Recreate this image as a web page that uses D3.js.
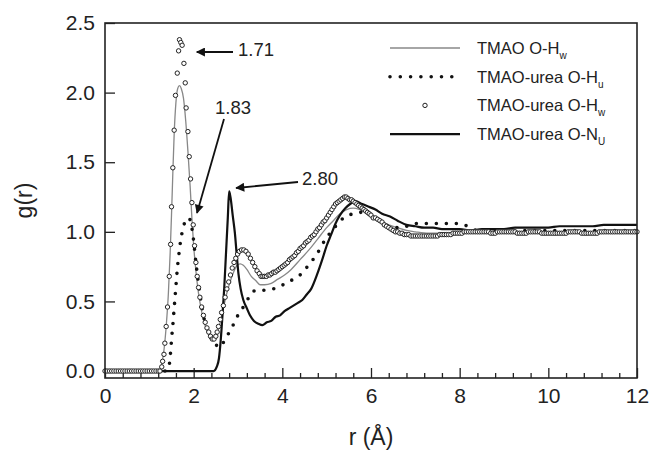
<!DOCTYPE html>
<html>
<head>
<meta charset="utf-8">
<script src="https://cdn.jsdelivr.net/npm/d3@7"></script>
<style>
  body { margin: 0; background: #fff; }
  svg { display: block; font-family: "Liberation Sans", Arial, sans-serif; }
  .axis path { display: none; }
  .axis line { stroke: #222; stroke-width: 1.3; }
  .axis text { fill: #222; font-size: 21px; font-family: "Liberation Sans", Arial, sans-serif; }
</style>
</head>
<body>
<script>
// x ticks, y ticks
const xMajor = [0, 2, 4, 6, 8, 10, 12];
const xMinor = [0.4, 0.8, 1.2, 1.6, 2.4, 2.8, 3.2, 3.6, 4.4, 4.8, 5.2, 5.6, 6.4, 6.8, 7.2, 7.6, 8.4, 8.8, 9.2, 9.6, 10.4, 10.8, 11.2, 11.6];
const yMajor = [0, 0.5, 1.0, 1.5, 2.0, 2.5];

// TMAO O-Hw (thin grey line)
const rGrey = [0, 1.22, 1.28, 1.33, 1.38, 1.43, 1.47, 1.50, 1.53, 1.56, 1.60, 1.64, 1.68, 1.72, 1.77, 1.82, 1.87, 1.92, 1.96, 2.00, 2.05, 2.10, 2.16, 2.22, 2.30, 2.37, 2.43, 2.50, 2.58, 2.66, 2.74, 2.82, 2.90, 2.98, 3.05, 3.12, 3.20, 3.30, 3.40, 3.50, 3.60, 3.75, 3.90, 4.05, 4.20, 4.40, 4.60, 4.80, 5.00, 5.15, 5.30, 5.45, 5.60, 5.75, 5.90, 6.05, 6.20, 6.40, 6.60, 6.80, 7.00, 7.30, 7.60, 8.00, 8.50, 9.00, 9.50, 10.0, 10.5, 11.0, 11.5, 12.0];
const gGrey = [0, 0, 0.05, 0.15, 0.32, 0.56, 0.85, 1.12, 1.42, 1.70, 1.93, 2.03, 2.05, 2.03, 1.96, 1.80, 1.58, 1.33, 1.10, 0.90, 0.72, 0.58, 0.46, 0.37, 0.29, 0.24, 0.22, 0.24, 0.33, 0.44, 0.55, 0.64, 0.71, 0.76, 0.77, 0.76, 0.73, 0.68, 0.65, 0.62, 0.62, 0.63, 0.66, 0.69, 0.73, 0.80, 0.87, 0.95, 1.03, 1.08, 1.13, 1.16, 1.17, 1.16, 1.14, 1.11, 1.08, 1.05, 1.03, 1.01, 1.00, 0.99, 0.99, 0.99, 1.00, 1.00, 1.00, 1.00, 1.00, 1.00, 1.00, 1.00];

// TMAO-urea O-Hu (dotted line)
const rDot = [0, 1.38, 1.44, 1.47, 1.49, 1.51, 1.53, 1.55, 1.57, 1.59, 1.61, 1.63, 1.66, 1.69, 1.73, 1.77, 1.83, 1.89, 1.94, 1.99, 2.04, 2.10, 2.16, 2.22, 2.30, 2.40, 2.50, 2.58, 2.66, 2.75, 2.86, 2.98, 3.12, 3.25, 3.40, 3.57, 3.80, 4.02, 4.25, 4.40, 4.59, 4.78, 4.96, 5.15, 5.38, 5.60, 5.80, 6.00, 6.20, 6.40, 6.60, 6.80, 7.00, 7.30, 7.60, 7.90, 8.10, 8.30, 8.50, 9.00, 9.50, 10.0, 10.5, 11.0, 11.5, 12.0];
const gDot = [0, 0, 0.03, 0.10, 0.18, 0.26, 0.33, 0.41, 0.49, 0.57, 0.65, 0.73, 0.82, 0.90, 0.98, 1.04, 1.08, 1.10, 1.06, 0.96, 0.81, 0.65, 0.51, 0.40, 0.30, 0.23, 0.19, 0.17, 0.20, 0.25, 0.31, 0.39, 0.46, 0.53, 0.58, 0.58, 0.59, 0.62, 0.66, 0.69, 0.76, 0.84, 0.94, 1.02, 1.10, 1.13, 1.14, 1.12, 1.08, 1.04, 1.03, 1.04, 1.06, 1.06, 1.06, 1.06, 1.05, 1.02, 1.00, 1.00, 1.01, 1.01, 1.01, 1.01, 1.01, 1.01];

// TMAO-urea O-Hw (open circles): baseline, first shell, second shell, tail
const rCircA = [0, 0.05, 0.10, 0.15, 0.20, 0.25, 0.30, 0.35, 0.40, 0.45, 0.50, 0.55, 0.60, 0.65, 0.70, 0.75, 0.80, 0.85, 0.90, 0.95, 1.00, 1.05, 1.10, 1.15, 1.20, 1.24];
const gCircA = [0, 0, 0, 0, 0, 0, 0, 0, 0, 0, 0, 0, 0, 0, 0, 0, 0, 0, 0, 0, 0, 0, 0, 0, 0, 0];
const rCircB = [1.28, 1.30, 1.33, 1.35, 1.38, 1.41, 1.45, 1.48, 1.50, 1.53, 1.56, 1.59, 1.63, 1.66, 1.68, 1.71, 1.74, 1.78, 1.81, 1.83, 1.87, 1.90, 1.93, 1.96, 1.99, 2.02, 2.05, 2.08, 2.11, 2.14, 2.18, 2.22, 2.26, 2.30, 2.34, 2.38, 2.42, 2.46, 2.50, 2.53, 2.56, 2.60, 2.63, 2.67, 2.71, 2.75, 2.79, 2.83, 2.87, 2.91, 2.95, 2.99, 3.03, 3.08, 3.13, 3.18, 3.23, 3.28, 3.33, 3.38, 3.43, 3.48];
const gCircB = [0.03, 0.07, 0.12, 0.20, 0.32, 0.46, 0.68, 0.91, 1.18, 1.46, 1.73, 1.98, 2.14, 2.30, 2.38, 2.36, 2.34, 2.21, 2.07, 1.89, 1.72, 1.54, 1.38, 1.21, 1.05, 0.90, 0.78, 0.68, 0.60, 0.53, 0.46, 0.40, 0.35, 0.31, 0.28, 0.25, 0.23, 0.23, 0.25, 0.28, 0.32, 0.37, 0.42, 0.47, 0.53, 0.59, 0.64, 0.69, 0.74, 0.78, 0.81, 0.84, 0.86, 0.87, 0.87, 0.86, 0.84, 0.81, 0.78, 0.75, 0.72, 0.70];
const rCircC = [3.52, 3.56, 3.60, 3.64, 3.68, 3.72, 3.76, 3.80, 3.84, 3.88, 3.92, 3.96, 4.00, 4.04, 4.08, 4.12, 4.16, 4.20, 4.24, 4.28, 4.32, 4.36, 4.40, 4.44, 4.48, 4.52, 4.56, 4.60, 4.64, 4.68, 4.72, 4.76, 4.80, 4.84, 4.88, 4.92, 4.96, 5.00, 5.04, 5.08, 5.12, 5.16, 5.20, 5.24, 5.28, 5.32, 5.36, 5.40, 5.44, 5.48, 5.52, 5.56, 5.60, 5.64, 5.68, 5.72, 5.76, 5.80, 5.84, 5.88, 5.92, 5.96, 6.00];
const gCircC = [0.68, 0.68, 0.68, 0.68, 0.69, 0.69, 0.70, 0.71, 0.71, 0.72, 0.73, 0.74, 0.75, 0.76, 0.77, 0.78, 0.80, 0.81, 0.82, 0.83, 0.85, 0.86, 0.88, 0.89, 0.90, 0.92, 0.93, 0.94, 0.96, 0.97, 0.98, 1.00, 1.02, 1.03, 1.05, 1.07, 1.08, 1.10, 1.12, 1.14, 1.16, 1.18, 1.20, 1.21, 1.22, 1.23, 1.24, 1.25, 1.25, 1.24, 1.23, 1.23, 1.22, 1.21, 1.20, 1.19, 1.18, 1.17, 1.16, 1.15, 1.14, 1.13, 1.12];
const rCircD = [6.05, 6.10, 6.15, 6.20, 6.25, 6.30, 6.35, 6.40, 6.45, 6.50, 6.55, 6.60, 6.65, 6.70, 6.75, 6.80, 6.85, 6.90, 6.95, 7.00,
    7.05, 7.10, 7.15, 7.20, 7.25, 7.30, 7.35, 7.40, 7.45, 7.50, 7.55, 7.60, 7.65, 7.70, 7.75, 7.80, 7.85, 7.90, 7.95, 8.00,
    8.05, 8.10, 8.15, 8.20, 8.25, 8.30, 8.35, 8.40, 8.45, 8.50, 8.55, 8.60, 8.65, 8.70, 8.75, 8.80, 8.85, 8.90, 8.95, 9.00,
    9.05, 9.10, 9.15, 9.20, 9.25, 9.30, 9.35, 9.40, 9.45, 9.50, 9.55, 9.60, 9.65, 9.70, 9.75, 9.80, 9.85, 9.90, 9.95, 10.00,
    10.05, 10.10, 10.15, 10.20, 10.25, 10.30, 10.35, 10.40, 10.45, 10.50, 10.55, 10.60, 10.65, 10.70, 10.75, 10.80, 10.85, 10.90, 10.95, 11.00,
    11.05, 11.10, 11.15, 11.20, 11.25, 11.30, 11.35, 11.40, 11.45, 11.50, 11.55, 11.60, 11.65, 11.70, 11.75, 11.80, 11.85, 11.90, 11.95, 12.00];
const gCircD = [1.10, 1.10, 1.09, 1.08, 1.07, 1.05, 1.04, 1.03, 1.02, 1.01, 1.00, 1.00, 0.99, 0.99, 0.98, 0.98, 0.98, 0.97, 0.97, 0.97,
    0.97, 0.97, 0.97, 0.97, 0.97, 0.97, 0.97, 0.97, 0.97, 0.97, 0.98, 0.98, 0.98, 0.98, 0.98, 0.98, 0.99, 0.99, 0.99, 0.99,
    0.99, 1.00, 1.00, 1.00, 1.00, 1.00, 1.00, 1.00, 1.00, 1.00, 1.00, 1.00, 1.00, 0.99, 0.99, 0.99, 1.00, 1.00, 1.00, 1.00,
    1.00, 1.00, 1.00, 1.00, 1.00, 0.99, 0.99, 0.99, 0.99, 0.99, 1.00, 1.00, 1.00, 1.00, 1.00, 1.00, 0.99, 0.99, 0.99, 0.99,
    0.99, 0.99, 0.99, 0.99, 0.99, 0.99, 0.99, 0.99, 1.00, 1.00, 1.00, 1.00, 1.00, 1.00, 0.99, 0.99, 0.99, 0.99, 0.99, 0.99,
    0.99, 0.99, 1.00, 1.00, 1.00, 1.00, 1.00, 1.00, 1.00, 1.00, 1.00, 1.00, 1.00, 1.00, 1.00, 1.00, 1.00, 1.00, 1.00, 1.00];

// TMAO-urea O-NU (thick black line)
const rBlack = [0, 2.45, 2.52, 2.57, 2.61, 2.65, 2.69, 2.73, 2.77, 2.80, 2.83, 2.88, 2.93, 2.97, 3.01, 3.06, 3.12, 3.20, 3.27, 3.36, 3.46, 3.55, 3.65, 3.75, 3.85, 3.95, 4.05, 4.15, 4.25, 4.35, 4.45, 4.55, 4.65, 4.78, 4.90, 5.00, 5.10, 5.20, 5.30, 5.42, 5.53, 5.65, 5.80, 5.95, 6.10, 6.25, 6.43, 6.60, 6.80, 7.00, 7.20, 7.40, 7.60, 7.80, 8.00, 8.25, 8.50, 8.75, 9.00, 9.25, 9.50, 9.75, 10.0, 10.25, 10.5, 10.75, 11.0, 11.25, 11.5, 11.75, 12.0];
const gBlack = [0, 0, 0.03, 0.09, 0.22, 0.40, 0.60, 0.85, 1.10, 1.29, 1.25, 1.12, 0.99, 0.84, 0.70, 0.59, 0.51, 0.45, 0.40, 0.36, 0.34, 0.33, 0.35, 0.36, 0.39, 0.40, 0.43, 0.45, 0.47, 0.49, 0.51, 0.55, 0.59, 0.69, 0.80, 0.90, 0.98, 1.06, 1.12, 1.17, 1.20, 1.22, 1.20, 1.18, 1.16, 1.13, 1.11, 1.08, 1.05, 1.04, 1.03, 1.03, 1.02, 1.02, 1.02, 1.01, 1.02, 1.02, 1.02, 1.03, 1.03, 1.03, 1.03, 1.04, 1.04, 1.04, 1.04, 1.05, 1.05, 1.05, 1.05];

let W = 649, H = 452;
let margin = {top: 23, right: 12, bottom: 74, left: 105};
let width = W - margin.left - margin.right,
    height = H - margin.top - margin.bottom;

let svg = d3.select('body').append('svg')
    .attr('width', W)
    .attr('height', H);

let g = svg.append('g')
    .attr('transform', `translate(${margin.left},${margin.top})`);

let x = d3.scaleLinear().domain([0, 12]).range([0, width]);
let y = d3.scaleLinear().domain([-0.05, 2.5]).range([height, 0]);

// minor ticks on x (every 0.4)
g.append('g')
    .attr('class', 'axis')
    .attr('transform', `translate(0,${height})`)
    .call(d3.axisBottom(x).tickValues(xMinor).tickSizeInner(-5).tickSizeOuter(0).tickFormat(''));

g.append('g')
    .attr('class', 'axis')
    .attr('transform', `translate(0,${height})`)
    .call(d3.axisBottom(x).tickValues(xMajor).tickSizeInner(-10).tickSizeOuter(0).tickPadding(10).tickFormat(d3.format('d')));

g.append('g')
    .attr('class', 'axis')
    .call(d3.axisLeft(y).tickValues(yMajor).tickSizeInner(-10).tickSizeOuter(0).tickPadding(10).tickFormat(d3.format('.1f')));

let line = d3.line()
    .x(d => x(d[0]))
    .y(d => y(d[1]))
    .curve(d3.curveMonotoneX);

let pairs = (rs, gs) => rs.map((r, i) => [r, gs[i]]);
let greyData = pairs(rGrey, gGrey);
let dotData = pairs(rDot, gDot);
let circData = [].concat(pairs(rCircA, gCircA), pairs(rCircB, gCircB), pairs(rCircC, gCircC), pairs(rCircD, gCircD));
let blackData = pairs(rBlack, gBlack);

g.append('path')
    .datum(greyData)
    .attr('d', line)
    .attr('fill', 'none')
    .attr('stroke', '#888')
    .attr('stroke-width', 1.3);

g.append('path')
    .datum(blackData)
    .attr('d', line)
    .attr('fill', 'none')
    .attr('stroke', '#111')
    .attr('stroke-width', 2.2);

g.append('path')
    .datum(dotData)
    .attr('d', line)
    .attr('fill', 'none')
    .attr('stroke', '#111')
    .attr('stroke-width', 3.6)
    .attr('stroke-linecap', 'round')
    .attr('stroke-dasharray', '0,10');

g.selectAll('.pt')
    .data(circData)
    .enter().append('circle')
    .attr('class', 'pt')
    .attr('cx', d => x(d[0]))
    .attr('cy', d => y(d[1]))
    .attr('r', 2.2)
    .attr('fill', '#fff')
    .attr('stroke', '#222')
    .attr('stroke-width', 1);

// frame
g.append('rect')
    .attr('width', width)
    .attr('height', height)
    .attr('fill', 'none')
    .attr('stroke', '#222')
    .attr('stroke-width', 1.6);

// axis titles
svg.append('text')
    .attr('transform', `translate(32,${margin.top + height / 2}) rotate(-90)`)
    .attr('text-anchor', 'middle')
    .attr('font-size', 23)
    .attr('fill', '#222')
    .text('g(r)');

svg.append('text')
    .attr('x', margin.left + width / 2)
    .attr('y', 445)
    .attr('text-anchor', 'middle')
    .attr('font-size', 23)
    .attr('fill', '#222')
    .text('r (Å)');

// peak annotations
let defs = svg.append('defs');
defs.append('marker')
    .attr('id', 'arr')
    .attr('viewBox', '0 0 10 10')
    .attr('refX', 9).attr('refY', 5)
    .attr('markerWidth', 6).attr('markerHeight', 5)
    .attr('orient', 'auto')
    .append('path')
    .attr('d', 'M0,0 L10,5 L0,10 Z')
    .attr('fill', '#111');

let notes = [
    {label: '1.71', tx: 238, ty: 56, from: [233, 52], to: [x(1.71) + margin.left + 16, 52]},
    {label: '1.83', tx: 215, ty: 114, from: [224, 119], to: [197, 213]},
    {label: '2.80', tx: 302, ty: 185, from: [298, 182], to: [x(2.80) + margin.left + 7, 188]}
];
notes.forEach(n => {
    svg.append('line')
        .attr('x1', n.from[0]).attr('y1', n.from[1])
        .attr('x2', n.to[0]).attr('y2', n.to[1])
        .attr('stroke', '#111')
        .attr('stroke-width', 1.8)
        .attr('marker-end', 'url(#arr)');
    svg.append('text')
        .attr('x', n.tx).attr('y', n.ty)
        .attr('font-size', 18.5)
        .attr('fill', '#222')
        .text(n.label);
});

// legend
let legend = [
    {name: 'TMAO O-H', sub: 'w', type: 'grey'},
    {name: 'TMAO-urea O-H', sub: 'u', type: 'dot'},
    {name: 'TMAO-urea O-H', sub: 'w', type: 'circ'},
    {name: 'TMAO-urea O-N', sub: 'U', type: 'black'}
];
let lg = svg.append('g');
legend.forEach((d, i) => {
    let ly = 48 + i * 28.7;
    if (d.type === 'grey') {
        lg.append('line').attr('x1', 390).attr('x2', 460).attr('y1', ly).attr('y2', ly)
            .attr('stroke', '#888').attr('stroke-width', 1.3);
    } else if (d.type === 'dot') {
        lg.append('line').attr('x1', 390).attr('x2', 455).attr('y1', ly).attr('y2', ly)
            .attr('stroke', '#111').attr('stroke-width', 3.6)
            .attr('stroke-linecap', 'round').attr('stroke-dasharray', '0,10.3');
    } else if (d.type === 'circ') {
        lg.append('circle').attr('cx', 425).attr('cy', ly).attr('r', 2.2)
            .attr('fill', '#fff').attr('stroke', '#222').attr('stroke-width', 1);
    } else {
        lg.append('line').attr('x1', 390).attr('x2', 460).attr('y1', ly).attr('y2', ly)
            .attr('stroke', '#111').attr('stroke-width', 2.2);
    }
    let t = lg.append('text')
        .attr('x', 477).attr('y', ly + 6)
        .attr('font-size', 16.5)
        .attr('fill', '#222')
        .text(d.name);
    t.append('tspan')
        .attr('dy', 5)
        .attr('font-size', 10)
        .text(d.sub);
});
</script>
</body>
</html>
